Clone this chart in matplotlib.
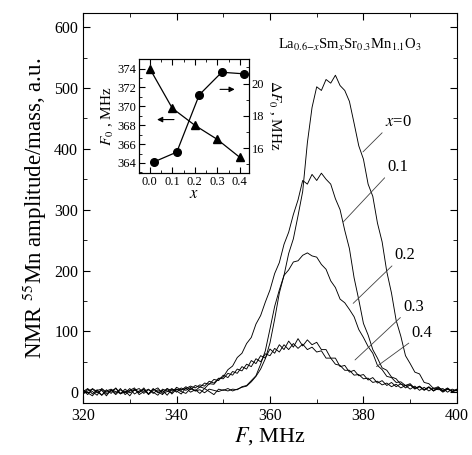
import matplotlib
matplotlib.use('Agg')
import matplotlib.pyplot as plt
import numpy as np
from matplotlib.ticker import MultipleLocator

plt.rcParams['font.family'] = ['Liberation Serif', 'DejaVu Serif']
plt.rcParams['mathtext.fontset'] = 'stix'

# frequency grid, MHz
freq = np.arange(320, 401)

# NMR spectra, one value per MHz (320..400)
amp_x0 = [3, -4, 6, 1, -5, 4, -2, 7, -3, 2,
          -6, 5, 0, 4, -3, 6, -1, 3, -5, 5,
          2, -3, 7, 0, 4, -2, 6, 1, -4, 5,
          3, 6, 2, 5, 8, 10, 17, 26, 38, 55,
          81, 120, 163, 192, 228, 252, 290, 330, 410, 468,
          502, 496, 514, 508, 521, 504, 496, 478, 442, 405,
          383, 342, 322, 278, 247, 198, 163, 118, 92, 60,
          47, 33, 30, 16, 14, 6, 9, 2, 7, 1,
          4]
amp_x1 = [-2, 5, 1, -5, 6, 0, 3, -4, 4, -1,
          6, -3, 2, 5, -4, 3, 7, -2, 1, 6,
          0, 7, 3, 8, 2, 9, 6, 14, 13, 22,
          25, 37, 43, 57, 64, 80, 90, 112, 126, 148,
          168, 195, 213, 243, 263, 292, 316, 348, 342, 358,
          348, 360, 350, 342, 318, 300, 266, 236, 188, 152,
          113, 94, 70, 56, 40, 36, 25, 22, 13, 11,
          14, 6, 9, 3, 8, 2, 6, 0, 5, 1,
          3]
amp_x2 = [4, -1, -6, 3, 5, -3, 2, 6, -2, 0,
          3, 7, -4, 1, 5, -2, 4, 0, 6, -3,
          5, 1, -2, 6, 2, 4, -1, 5, 3, 1,
          4, 2, 5, 4, 9, 11, 19, 27, 46, 68,
          104, 141, 168, 192, 201, 214, 216, 225, 229, 224,
          222, 210, 202, 183, 172, 153, 147, 136, 124, 103,
          90, 75, 64, 44, 37, 26, 24, 16, 17, 11,
          12, 7, 9, 4, 8, 3, 7, 1, 5, 2,
          4]
amp_x3 = [1, 6, -3, 4, -5, 2, 5, -2, 6, -4,
          2, 4, -1, 7, -3, 5, 1, -4, 6, 2,
          5, 3, 9, 4, 11, 8, 15, 13, 21, 19,
          28, 24, 34, 31, 42, 38, 52, 47, 60, 56,
          71, 64, 78, 70, 84, 74, 88, 76, 86, 78,
          82, 70, 70, 56, 56, 42, 44, 33, 36, 27,
          29, 20, 24, 15, 19, 11, 16, 9, 14, 7,
          12, 5, 10, 4, 9, 2, 8, 3, 6, 1,
          5]
amp_x4 = [-3, 2, 5, -1, 3, -6, 4, 1, -2, 5,
          -1, 3, 6, -2, 4, 0, -5, 5, 2, -1,
          8, 4, 6, 10, 7, 12, 10, 18, 15, 23,
          22, 31, 28, 38, 35, 46, 42, 55, 50, 63,
          60, 72, 66, 78, 70, 80, 72, 79, 70, 74,
          66, 68, 56, 56, 46, 44, 36, 36, 28, 29,
          22, 23, 16, 18, 12, 15, 9, 13, 7, 11,
          5, 10, 3, 8, 2, 7, 4, 6, 0, 5,
          2]
spectra = [amp_x0, amp_x1, amp_x2, amp_x3, amp_x4]
curve_labels = ['$x$=0', '0.1', '0.2', '0.3', '0.4']

# inset data
x_f0 = [0.0, 0.1, 0.2, 0.3, 0.4]
f0 = [374.0, 369.8, 368.0, 366.5, 364.6]
x_df0 = [0.02, 0.12, 0.22, 0.32, 0.42]
df0 = [15.15, 15.75, 19.3, 20.7, 20.6]

fig = plt.figure(figsize=(4.72, 4.55), dpi=100)
ax = fig.add_axes([0.176, 0.114, 0.792, 0.857])

for amp in spectra:
    ax.plot(freq, amp, color='k', lw=0.65)

# label leaders: (label point, curve point)
leaders = [((384.6, 431), (379.9, 395)),
           ((385.1, 357), (375.7, 280)),
           ((386.7, 212), (377.8, 146)),
           ((388.5, 127), (378.2, 53)),
           ((390.3, 84), (382.8, 42))]
for lab, (top, bot) in zip(curve_labels, leaders):
    ax.annotate(lab, xy=bot, xytext=top, ha='left', va='bottom', fontsize=12,
                arrowprops=dict(arrowstyle='-', relpos=(0, 0), shrinkA=0, shrinkB=0,
                                lw=0.6, color='0.25'))

ax.text(361.8, 571, r'La$_{0.6\mathrm{-}x}$Sm$_x$Sr$_{0.3}$Mn$_{1.1}$O$_3$',
        fontsize=10.5, va='center', ha='left')

ax.set_xlim(320, 400)
ax.set_ylim(-18, 623)
ax.xaxis.set_major_locator(MultipleLocator(20))
ax.xaxis.set_minor_locator(MultipleLocator(10))
ax.yaxis.set_major_locator(MultipleLocator(100))
ax.yaxis.set_minor_locator(MultipleLocator(50))
ax.tick_params(which='both', direction='in', top=True, right=True, labelsize=11.5)
ax.tick_params(which='major', length=5)
ax.tick_params(which='minor', length=3)
ax.set_xlabel('$F$, MHz', fontsize=16, labelpad=1)
ax.set_ylabel('NMR $^{55}$Mn amplitude/mass, a.u.', fontsize=16.5, labelpad=4)

# inset
axi = fig.add_axes([0.294, 0.620, 0.233, 0.251])
axi.plot(x_f0, f0, color='k', lw=0.9, marker='^', ms=6)
axi.set_xlim(-0.049, 0.44)
axi.set_ylim(362.95, 375.05)
axi.xaxis.set_minor_locator(MultipleLocator(0.05))
axi.yaxis.set_major_locator(MultipleLocator(2))
axi.yaxis.set_minor_locator(MultipleLocator(1))
axi.set_xticks([0.0, 0.1, 0.2, 0.3, 0.4])
axi.set_xticklabels(['0.0', '0.1', '0.2', '0.3', '0.4'])
axi.tick_params(which='both', direction='in', top=True, labelsize=9, pad=2)
axi.tick_params(which='major', length=4)
axi.tick_params(which='minor', length=2)
axi.set_xlabel('$x$', fontsize=12, labelpad=-1)
axi.set_ylabel('$F_0$ , MHz', fontsize=11, labelpad=1)
axi.annotate('', xy=(0.02, 368.6), xytext=(0.12, 368.6),
             arrowprops=dict(arrowstyle='-|>', color='k', lw=0.8, mutation_scale=8))
axi.annotate('', xy=(0.39, 371.8), xytext=(0.30, 371.8),
             arrowprops=dict(arrowstyle='-|>', color='k', lw=0.8, mutation_scale=8))

axr = axi.twinx()
axr.plot(x_df0, df0, color='k', lw=0.9, marker='o', ms=5.5)
axr.set_ylim(14.46, 21.54)
axr.yaxis.set_major_locator(MultipleLocator(2))
axr.yaxis.set_minor_locator(MultipleLocator(1))
axr.tick_params(which='both', direction='in', labelsize=9, pad=2)
axr.tick_params(which='major', length=4)
axr.tick_params(which='minor', length=2)
axr.set_ylabel(r'$\Delta F_0$ , MHz', fontsize=11, rotation=270, labelpad=13)

fig.savefig('out.png', dpi=100)
